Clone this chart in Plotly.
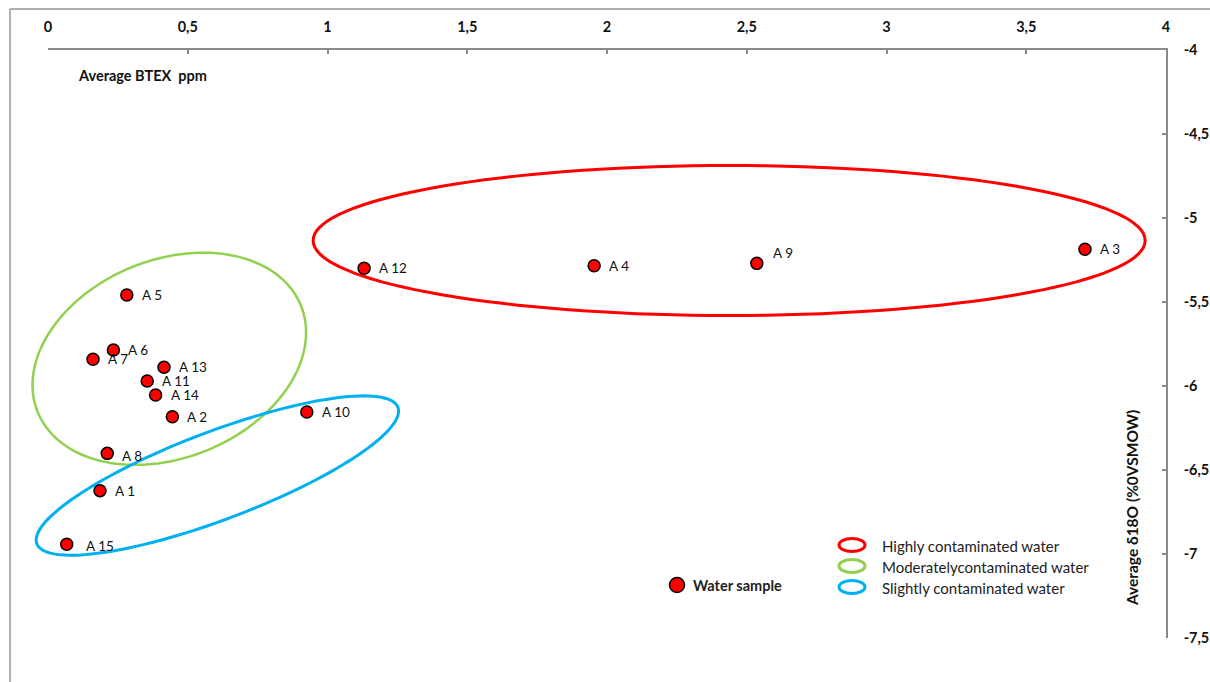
import numpy as np
import plotly.graph_objects as go

# Water samples: average BTEX (ppm) and average delta-18O (per mil VSMOW)
sample_ids = ["A 1", "A 2", "A 3", "A 4", "A 5", "A 6", "A 7", "A 8",
              "A 9", "A 10", "A 11", "A 12", "A 13", "A 14", "A 15"]
btex_ppm = [0.186, 0.445, 3.710, 1.954, 0.282, 0.234, 0.161, 0.212,
            2.536, 0.926, 0.355, 1.131, 0.415, 0.385, 0.067]
delta18o = [-6.623, -6.183, -5.186, -5.284, -5.458, -5.786, -5.841, -6.401,
            -5.270, -6.155, -5.970, -5.299, -5.889, -6.054, -6.942]

# Axis ticks (comma decimals)
x_tick_vals = [0, 0.5, 1, 1.5, 2, 2.5, 3, 3.5, 4]
x_tick_text = ["0", "0,5", "1", "1,5", "2", "2,5", "3", "3,5", "4"]
y_tick_vals = [-4, -4.5, -5, -5.5, -6, -6.5, -7, -7.5]
y_tick_text = ["-4", "-4,5", "-5", "-5,5", "-6", "-6,5", "-7", "-7,5"]

# Contamination groups
group_names = ["Highly contaminated water", "Moderatelycontaminated water",
               "Slightly contaminated water"]
group_colors = ["#FF0000", "#92D050", "#00B0F0"]

FONT = "Lato, 'Open Sans', sans-serif"
W, H = 1210, 682
ML, MR, MT, MB = 48, 44, 50, 44
PW, PH = W - ML - MR, H - MT - MB
X_RANGE, Y_RANGE = (0, 4), (-7.5, -4)

# Group outlines: centre (data units), semi-axes (px), tilt (deg, counter-clockwise)
outlines = [
    dict(cx=2.437, cy=-5.134, a=416, b=75, tilt=0.0, width=3),
    dict(cx=0.434, cy=-5.838, a=142, b=99, tilt=22.0, width=2.5),
    dict(cx=0.606, cy=-6.533, a=193, b=44, tilt=20.7, width=3),
]


def px_to_paper_x(px):
    return (px - ML) / PW


def px_to_paper_y(py):
    return (H - MB - py) / PH


def ellipse_path(cx, cy, a, b, tilt, n=140):
    """Closed outline in paper coordinates so it is not clipped by the plot area."""
    t = np.linspace(0, 2 * np.pi, n, endpoint=False)
    th = np.radians(tilt)
    dx = a * np.cos(t) * np.cos(th) - b * np.sin(t) * np.sin(th)
    dy = a * np.cos(t) * np.sin(th) + b * np.sin(t) * np.cos(th)
    px = (cx - X_RANGE[0]) / (X_RANGE[1] - X_RANGE[0]) + dx / PW
    py = (cy - Y_RANGE[0]) / (Y_RANGE[1] - Y_RANGE[0]) + dy / PH
    pts = [f"{x:.5f},{y:.5f}" for x, y in zip(px, py)]
    return "M" + " L".join(pts) + " Z"


fig = go.Figure()

fig.add_trace(go.Scatter(
    x=btex_ppm, y=delta18o, mode="markers", name="Water sample",
    marker=dict(size=12, color="#FF0000", line=dict(color="#000000", width=1.5)),
    showlegend=False, hoverinfo="skip",
))

shapes = []
for o, col in zip(outlines, group_colors):
    shapes.append(dict(
        type="path", xref="paper", yref="paper", layer="below",
        path=ellipse_path(o["cx"], o["cy"], o["a"], o["b"], o["tilt"]),
        line=dict(color=col, width=o["width"]),
    ))

# Chart-area frame (top and left edges)
shapes.append(dict(type="line", xref="paper", yref="paper",
                   x0=px_to_paper_x(10), x1=px_to_paper_x(W + 5),
                   y0=px_to_paper_y(9), y1=px_to_paper_y(9),
                   line=dict(color="#b0b0b0", width=2)))
shapes.append(dict(type="line", xref="paper", yref="paper",
                   x0=px_to_paper_x(10), x1=px_to_paper_x(10),
                   y0=px_to_paper_y(9), y1=px_to_paper_y(H + 5),
                   line=dict(color="#b0b0b0", width=2)))

# Legend symbols for the groups
legend_x = px_to_paper_x(852)
legend_rows = [545, 566, 587]
for py, col in zip(legend_rows, group_colors):
    yp = px_to_paper_y(py)
    shapes.append(dict(type="circle", xref="paper", yref="paper",
                       xsizemode="pixel", ysizemode="pixel",
                       xanchor=legend_x, yanchor=yp,
                       x0=-13, x1=13, y0=-6.5, y1=6.5,
                       line=dict(color=col, width=3)))

# Legend symbol for the samples
ws_x, ws_y = px_to_paper_x(677), px_to_paper_y(585)
shapes.append(dict(type="circle", xref="paper", yref="paper",
                   xsizemode="pixel", ysizemode="pixel",
                   xanchor=ws_x, yanchor=ws_y,
                   x0=-7.5, x1=7.5, y0=-7.5, y1=7.5,
                   fillcolor="#FF0000", line=dict(color="#000000", width=1.5)))

annotations = []
# Sample labels, nudged where they would collide
label_nudge = {"A 9": (14, 10), "A 15": (17, -2), "A 8": (13, -3)}
for sid, xv, yv in zip(sample_ids, btex_ppm, delta18o):
    dx, dy = label_nudge.get(sid, (13, 0))
    annotations.append(dict(
        x=xv, y=yv, xref="x", yref="y", text=sid, showarrow=False,
        xanchor="left", yanchor="middle", xshift=dx, yshift=dy,
        font=dict(family=FONT, size=13.5, color="#111111"),
    ))

for py, name in zip(legend_rows, group_names):
    annotations.append(dict(
        x=px_to_paper_x(880), y=px_to_paper_y(py + 1), xref="paper", yref="paper",
        text=name, showarrow=False, xanchor="left", yanchor="middle",
        font=dict(family=FONT, size=15, color="#222222"),
    ))

annotations.append(dict(
    x=px_to_paper_x(691), y=ws_y, xref="paper", yref="paper",
    text="Water sample", showarrow=False, xanchor="left", yanchor="middle",
    font=dict(family=FONT, size=14.5, color="#222222", weight="bold"),
))

annotations.append(dict(
    x=px_to_paper_x(76), y=px_to_paper_y(75), xref="paper", yref="paper",
    text="Average BTEX&nbsp;&nbsp;ppm", showarrow=False, xanchor="left", yanchor="middle",
    font=dict(family=FONT, size=14.5, color="#111111", weight="bold"),
))

annotations.append(dict(
    x=px_to_paper_x(1132), y=px_to_paper_y(508), xref="paper", yref="paper",
    text="Average δ18O (%0VSMOW)", showarrow=False, textangle=-90,
    xanchor="center", yanchor="middle",
    font=dict(family=FONT, size=15.5, color="#111111", weight="bold"),
))

axis_common = dict(
    showline=True, linecolor="#8a8a8a", linewidth=1.5,
    ticks="inside", ticklen=4, tickwidth=1.5, tickcolor="#8a8a8a",
    showgrid=False, zeroline=False, automargin=False,
    tickfont=dict(family=FONT, size=14.5, color="#111111", weight="bold"),
)

fig.update_layout(
    width=W, height=H,
    margin=dict(l=ML, r=MR, t=MT, b=MB),
    paper_bgcolor="white", plot_bgcolor="white",
    separators=", ",
    xaxis=dict(range=list(X_RANGE), side="top", tickvals=x_tick_vals,
               ticktext=x_tick_text, ticklabelstandoff=10, **axis_common),
    yaxis=dict(range=list(Y_RANGE), side="right", tickvals=y_tick_vals,
               ticktext=y_tick_text, ticklabelstandoff=13, **axis_common),
    shapes=shapes,
    annotations=annotations,
    showlegend=False,
)

fig.write_html("out.html")
